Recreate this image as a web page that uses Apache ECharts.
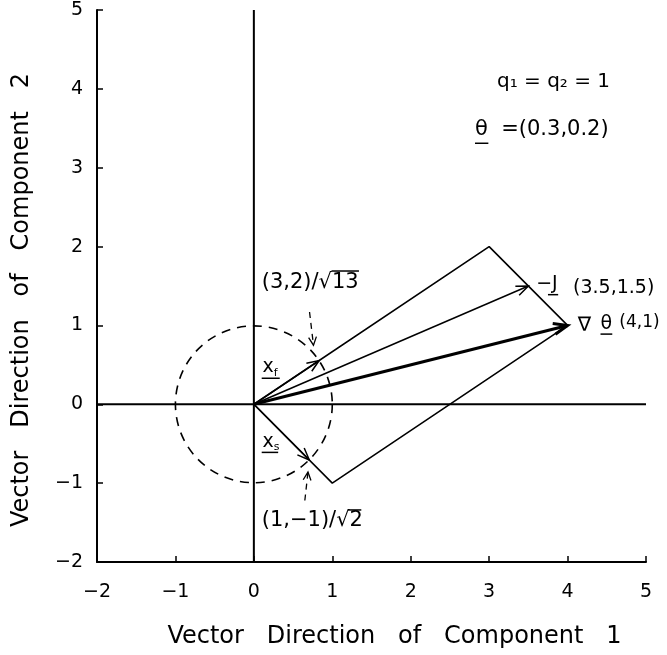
<!DOCTYPE html>
<html><head><meta charset="utf-8">
<script src="https://cdn.jsdelivr.net/npm/echarts@6/dist/echarts.min.js"></script>
<style>html,body{margin:0;padding:0;background:#fff}#c{width:667px;height:655px}</style>
</head><body><div id="c"></div>
<script>
// ---- axes ----
const xMin = -2, xMax = 5, yMin = -2, yMax = 5, tickStep = 1;
// ---- parallelogram spanned by the two directions ----
const boxX = [0, 3, 4, 1, 0];
const boxY = [0, 2, 1, -1, 0];
// ---- vectors from the origin: -J, grad theta, x_f=(3,2)/sqrt13, x_s=(1,-1)/sqrt2 ----
const vecX = [3.5, 4, 0.832, 0.707];
const vecY = [1.5, 1, 0.555, -0.707];
// ---- unit circle ----
const circleR = [1];
// ---- dashed pointers from labels to unit vectors ----
const ptrFromX = [0.71, 0.65];
const ptrFromY = [1.17, -1.22];
const ptrToX = [0.76, 0.69];
const ptrToY = [0.75, -0.86];
// ---- annotation texts ----
const annoText = ['q₁ = q₂ = 1', 'θ  =(0.3,0.2)', '−J', '(3.5,1.5)', '∇', 'θ', '(4,1)', '(3,2)/√13', '(1,−1)/√2', '{m|x}{s|f}', '{m|x}{s|s}'];
const annoX = [3.10, 2.82, 3.60, 4.07, 4.13, 4.42, 4.66, 0.10, 0.10, 0.11, 0.11];
const annoY = [4.09, 3.48, 1.52, 1.48, 1.00, 1.02, 1.04, 1.55, -1.47, 0.47, -0.48];
// underlines / overlines (x1, y1, x2, y2)
const ulX1 = [2.82, 3.75, 4.42, 0.10, 0.10, 0.99, 1.20];
const ulY1 = [3.31, 1.39, 0.89, 0.33, -0.61, 1.69, -1.34];
const ulX2 = [2.99, 3.88, 4.57, 0.33, 0.31, 1.34, 1.37];
const ulY2 = [3.31, 1.39, 0.89, 0.33, -0.61, 1.69, -1.34];

const FONT = '"DejaVu Sans", sans-serif';
const vecWidth = [1.5, 3, 1.5, 1.5];
const annoSize = [20, 21, 19, 19, 20, 19, 17, 21, 21, 19, 19];

function head(e, s, len, ang) {
  const a = Math.atan2(e[1] - s[1], e[0] - s[0]);
  return [[e[0] - len * Math.cos(a - ang), e[1] - len * Math.sin(a - ang)], e,
          [e[0] - len * Math.cos(a + ang), e[1] - len * Math.sin(a + ang)]];
}
const minus = v => String(v).replace('-', '−');

const chart = echarts.init(document.getElementById('c'));
const axisCommon = {
  type: 'value', interval: tickStep,
  axisLine: { show: true, onZero: false, lineStyle: { color: '#000', width: 2 } },
  axisTick: { show: true, inside: true, length: 6, lineStyle: { color: '#000', width: 1.5 } },
  splitLine: { show: false },
  nameLocation: 'middle'
};
chart.setOption({
  animation: false,
  backgroundColor: '#fff',
  grid: { left: 97, right: 21, top: 10, bottom: 93, containLabel: false },
  xAxis: Object.assign({}, axisCommon, {
    min: xMin, max: xMax, name: 'Vector   Direction   of   Component   1', nameGap: 63,
    nameTextStyle: { color: '#000', fontSize: 24, fontFamily: FONT, padding: [0, 0, 0, 46] },
    axisLabel: { color: '#000', fontSize: 19, fontFamily: FONT, margin: 21, formatter: minus }
  }),
  yAxis: Object.assign({}, axisCommon, {
    min: yMin, max: yMax, name: 'Vector   Direction   of   Component   2', nameGap: 63,
    nameTextStyle: { color: '#000', fontSize: 24, fontFamily: FONT, padding: [0, 28, 0, 0] },
    axisLabel: { color: '#000', fontSize: 19, fontFamily: FONT, margin: 14, formatter: minus }
  }),
  series: [
    { type: 'line', data: [[xMin, 0], [xMax, 0]], showSymbol: false, lineStyle: { color: '#000', width: 2 }, silent: true },
    { type: 'line', data: [[0, yMin], [0, yMax]], showSymbol: false, lineStyle: { color: '#000', width: 2 }, silent: true },
    { type: 'line', data: boxX.map((x, i) => [x, boxY[i]]), showSymbol: false, lineStyle: { color: '#000', width: 1.6 }, silent: true },
    { type: 'custom', data: circleR.map(r => [0, 0, r]), silent: true,
      renderItem: (params, api) => {
        const c = api.coord([api.value(0), api.value(1)]);
        const r = api.size([api.value(2), 0])[0];
        return { type: 'circle', shape: { cx: c[0], cy: c[1], r: r }, style: { stroke: '#000', fill: null, lineWidth: 1.6, lineDash: [9, 7] } };
      } },
    { type: 'custom', data: vecX.map((x, i) => [x, vecY[i]]), silent: true,
      renderItem: (params, api) => {
        const i = params.dataIndex, w = vecWidth[i];
        const s = api.coord([0, 0]), e = api.coord([api.value(0), api.value(1)]);
        return { type: 'group', children: [
          { type: 'line', shape: { x1: s[0], y1: s[1], x2: e[0], y2: e[1] }, style: { stroke: '#000', lineWidth: w } },
          { type: 'polyline', shape: { points: head(e, s, w > 2 ? 15 : 13, 0.38) }, style: { stroke: '#000', lineWidth: w, fill: null } }
        ] };
      } },
    { type: 'custom', data: ptrFromX.map((x, i) => [x, ptrFromY[i], ptrToX[i], ptrToY[i]]), silent: true,
      renderItem: (params, api) => {
        const s = api.coord([api.value(0), api.value(1)]), e = api.coord([api.value(2), api.value(3)]);
        return { type: 'group', children: [
          { type: 'line', shape: { x1: s[0], y1: s[1], x2: e[0], y2: e[1] }, style: { stroke: '#000', lineWidth: 1.3, lineDash: [6, 5] } },
          { type: 'polyline', shape: { points: head(e, s, 9, 0.45) }, style: { stroke: '#000', lineWidth: 1.3, fill: null } }
        ] };
      } },
    { type: 'custom', data: ulX1.map((x, i) => [x, ulY1[i], ulX2[i], ulY2[i]]), silent: true,
      renderItem: (params, api) => {
        const s = api.coord([api.value(0), api.value(1)]), e = api.coord([api.value(2), api.value(3)]);
        return { type: 'line', shape: { x1: s[0], y1: s[1], x2: e[0], y2: e[1] }, style: { stroke: '#000', lineWidth: 1.5 } };
      } },
    { type: 'custom', data: annoX.map((x, i) => [x, annoY[i]]), silent: true,
      renderItem: (params, api) => {
        const i = params.dataIndex;
        const p = api.coord([api.value(0), api.value(1)]);
        return { type: 'text', x: p[0], y: p[1], style: {
          text: annoText[i], fill: '#000', fontSize: annoSize[i], fontFamily: FONT, align: 'left', verticalAlign: 'middle',
          rich: { m: { fontSize: 19, fontFamily: FONT, fill: '#000', lineHeight: 22 }, s: { fontSize: 11, fontFamily: FONT, fill: '#000', verticalAlign: 'bottom', padding: [8, 0, 0, 0] } }
        } };
      } }
  ]
});
</script></body></html>
